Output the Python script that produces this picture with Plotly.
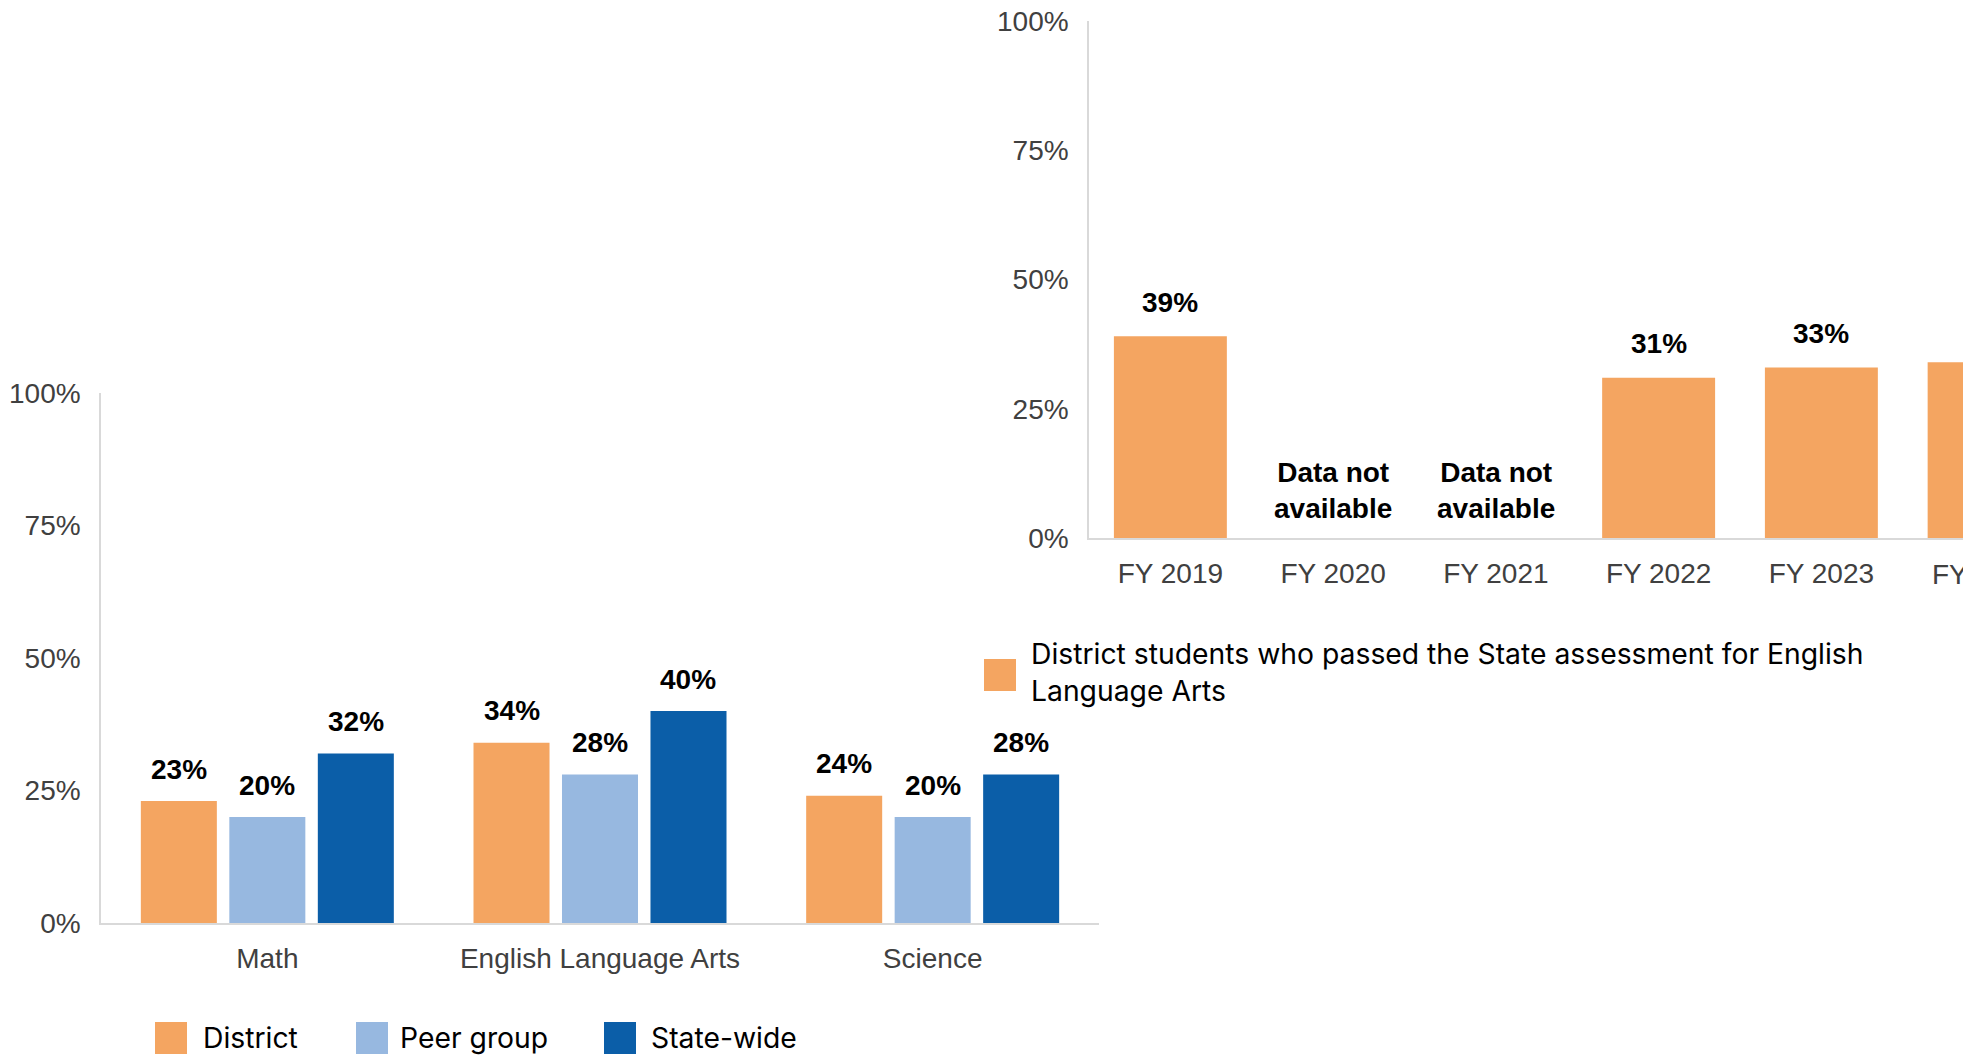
import plotly.graph_objects as go

# ---------------- data ----------------
subjects = ["Math", "English Language Arts", "Science"]
series_names = ["District", "Peer group", "State-wide"]
district = [23, 34, 24]
peer_group = [20, 28, 20]
state_wide = [32, 40, 28]

years = ["FY 2019", "FY 2020", "FY 2021", "FY 2022", "FY 2023", "FY 2024"]
ela_pass = [39, None, None, 31, 33, 34]
ela_name = "District students who passed the State assessment for English<br>Language Arts"
na_text = "Data not<br>available"

y_ticks = [0, 25, 50, 75, 100]
y_ticktext = [f"{v}%" for v in y_ticks]

# ---------------- style ----------------
W, H = 1963, 1055
colors = ["#F4A561", "#97B8E0", "#0B5EA8"]
axis_color = "#D9D9D9"
tick_color = "#404040"
chart_font = "Arial, Liberation Sans, sans-serif"
legend_font = "Inter, sans-serif"
legend_size = 28.3
bargap = 0.202
bargroupgap = 0.141
right_bar_width = 0.694


def px(x):
    return x / W


def py(y):
    return 1 - y / H


fig = go.Figure()

series = [district, peer_group, state_wide]
for name, vals, col in zip(series_names, series, colors):
    fig.add_trace(go.Bar(x=subjects, y=vals, name=name, marker_color=col,
                         marker_line_width=0, xaxis="x", yaxis="y",
                         showlegend=False))

fig.add_trace(go.Bar(x=years, y=ela_pass, name="District", marker_color=colors[0],
                     marker_line_width=0, width=right_bar_width,
                     xaxis="x2", yaxis="y2", showlegend=False))

annotations = []
label_font = dict(family=chart_font, size=28, color="#000000", weight="bold")

# left chart value labels
slot = (1 - bargap) / len(series)
for k, vals in enumerate(series):
    for i, v in enumerate(vals):
        annotations.append(dict(x=i + (k - (len(series) - 1) / 2) * slot, y=v,
                                xref="x", yref="y", text=f"{v}%", showarrow=False,
                                yanchor="middle", yshift=32, font=label_font))

# right chart value labels
for i, v in enumerate(ela_pass):
    if v is None:
        annotations.append(dict(x=i, y=0, xref="x2", yref="y2", text=na_text,
                                showarrow=False, yanchor="middle", yshift=48,
                                font=label_font))
    else:
        annotations.append(dict(x=i, y=v, xref="x2", yref="y2", text=f"{v}%",
                                showarrow=False, yanchor="middle", yshift=34,
                                font=label_font))

# right x-range (chart cut at the page edge)
x2_start = 1089
cat_w = 162.75
x2_range = [-0.5, -0.5 + (W - x2_start) / cat_w]

# partially visible last category label
last_idx = len(years) - 1
annotations.append(dict(x=(last_idx - x2_range[0]) / (x2_range[1] - x2_range[0]),
                        y=0, xref="x2 domain", yref="y2", text=years[-1],
                        showarrow=False, xanchor="center", yanchor="middle",
                        yshift=-36,
                        font=dict(family=chart_font, size=28, color=tick_color)))

# manual legends
shapes = []
leg_sw_x = [155, 356, 604]
leg_tx_x = [201, 398, 649]
for name, col, sx, tx in zip(series_names, colors, leg_sw_x, leg_tx_x):
    shapes.append(dict(type="rect", xref="paper", yref="paper",
                       x0=px(sx), x1=px(sx + 32), y0=py(1054), y1=py(1022),
                       fillcolor=col, line_width=0))
    annotations.append(dict(x=px(tx), y=py(1038), xref="paper", yref="paper",
                            text=name, showarrow=False, xanchor="left",
                            yanchor="middle", align="left",
                            font=dict(family=legend_font, size=legend_size, color="#000000")))

shapes.append(dict(type="rect", xref="paper", yref="paper",
                   x0=px(984), x1=px(1016), y0=py(691), y1=py(659),
                   fillcolor=colors[0], line_width=0))
annotations.append(dict(x=px(1029), y=py(672), xref="paper", yref="paper",
                        text=ela_name, showarrow=False, xanchor="left",
                        yanchor="middle", align="left",
                        font=dict(family=legend_font, size=legend_size, color="#000000")))

common_y = dict(range=[0, 100], tickvals=y_ticks, ticktext=y_ticktext,
                showline=True, linecolor=axis_color, linewidth=1.5,
                showgrid=False, zeroline=False, ticks="", automargin=False,
                ticklabelstandoff=13,
                tickfont=dict(family=chart_font, size=28, color=tick_color))
common_x = dict(showline=True, linecolor=axis_color, linewidth=1.5,
                showgrid=False, zeroline=False, ticks="", automargin=False,
                ticklabelstandoff=10,
                tickfont=dict(family=chart_font, size=28, color=tick_color))

fig.update_layout(
    width=W, height=H, autosize=False,
    margin=dict(l=0, r=0, t=0, b=0, pad=0),
    paper_bgcolor="white", plot_bgcolor="rgba(0,0,0,0)",
    barmode="group", bargap=bargap, bargroupgap=bargroupgap,
    xaxis=dict(domain=[px(101), px(1099)], anchor="y", range=[-0.5, 2.5], **common_x),
    yaxis=dict(domain=[py(923), py(393)], anchor="x", **common_y),
    xaxis2=dict(domain=[px(x2_start), 1.0], anchor="y2", range=x2_range, **common_x),
    yaxis2=dict(domain=[py(538), py(21)], anchor="x2", **common_y),
    annotations=annotations,
    shapes=shapes,
)

fig.write_html("out.html", config={"displayModeBar": False},
               post_script="document.body.style.margin='0px';")
